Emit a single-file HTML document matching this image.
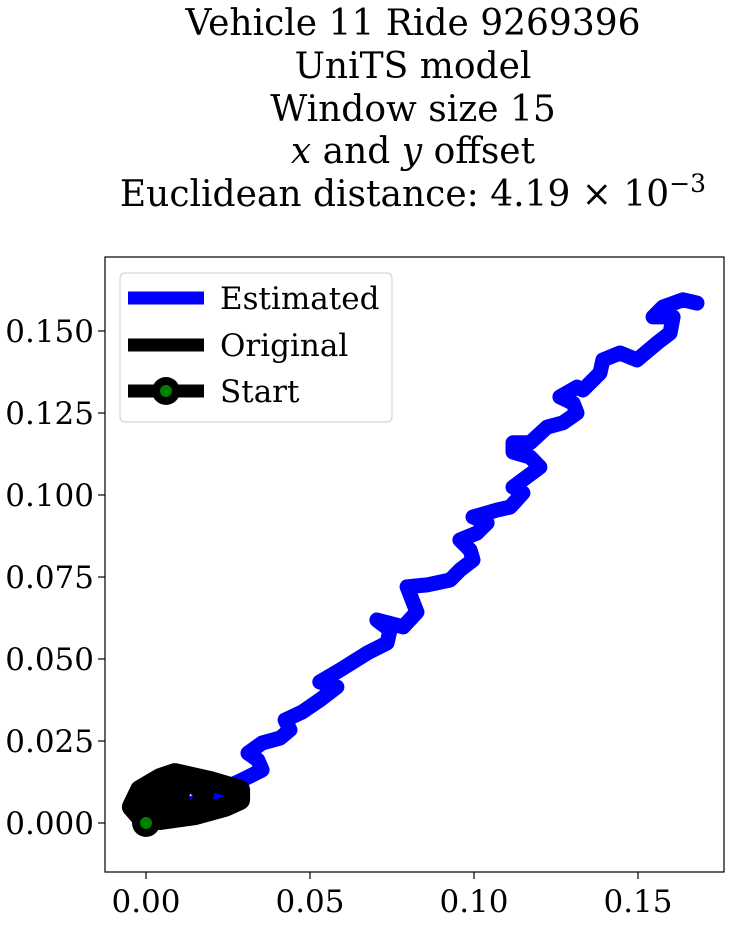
<!DOCTYPE html>
<html><head><meta charset="utf-8"><style>
body{margin:0;background:#fff;width:732px;height:920px;overflow:hidden}
svg text{font-family:"DejaVu Serif","Liberation Serif",serif}
</style></head><body>
<svg id="chart" width="732" height="920" xmlns="http://www.w3.org/2000/svg">
<g font-size="36" text-anchor="middle" fill="#000">
<text x="413" y="35">Vehicle 11 Ride 9269396</text>
<text x="413" y="78">UniTS model</text>
<text x="413" y="121">Window size 15</text>
<text x="413" y="163"><tspan font-style="italic">x</tspan> and <tspan font-style="italic">y</tspan> offset</text>
<text x="413" y="206">Euclidean distance: 4.19 × 10<tspan dy="-14" font-size="25">−3</tspan></text>
</g>
<g id="plot"></g>
</svg>
<script>
const xTicks=[0,0.05,0.10,0.15];
const xTickLabels=["0.00","0.05","0.10","0.15"];
const yTicks=[0,0.025,0.05,0.075,0.1,0.125,0.15];
const yTickLabels=["0.000","0.025","0.050","0.075","0.100","0.125","0.150"];
const estX=[0,0.0165,0.0311,0.0354,0.0341,0.0311,0.0354,0.0409,0.0439,0.0424,0.0476,0.0530,0.0582,0.0530,0.0591,0.0674,0.0735,0.0744,0.0704,0.0784,0.0826,0.0796,0.0857,0.0927,0.0957,0.0997,0.0988,0.0957,0.1009,0.1040,0.0997,0.1070,0.1110,0.1149,0.1119,0.1201,0.1171,0.1119,0.1119,0.1171,0.1223,0.1271,0.1314,0.1302,0.1262,0.1314,0.1332,0.1384,0.1393,0.1445,0.1497,0.1558,0.1598,0.1607,0.1546,0.1576,0.1637,0.1680];
const estY=[0,0.0070,0.0140,0.0162,0.0192,0.0213,0.0244,0.0259,0.0284,0.0314,0.0338,0.0375,0.0415,0.0430,0.0466,0.0518,0.0549,0.0588,0.0619,0.0598,0.0643,0.0720,0.0726,0.0741,0.0771,0.0802,0.0832,0.0863,0.0884,0.0915,0.0933,0.0954,0.0963,0.1006,0.1024,0.1085,0.1116,0.1131,0.1159,0.1159,0.1207,0.1220,0.1250,0.1280,0.1299,0.1329,0.1320,0.1372,0.1412,0.1433,0.1412,0.1463,0.1494,0.1543,0.1543,0.1573,0.1595,0.1585];
const origX=[0,-0.0043,-0.0018,0.0043,0.0088,0.0195,0.0287,0.0287,0.0241,0.0149,0.0043,0.0012,0.0058,0.0104,0.0098,0.0165,0.0180,0.0134,0.0058,0.0012,0];
const origY=[0,0.0049,0.0101,0.0137,0.0152,0.0128,0.0101,0.0070,0.0049,0.0024,0.0009,0.0034,0.0070,0.0095,0.0040,0.0046,0.0101,0.0122,0.0101,0.0070,0];
const startX=[0];const startY=[0];

const NS="http://www.w3.org/2000/svg";
const L=105,R=724,T=257,B=872;
const sx=v=>146+v*3280;
const sy=v=>823-v*3280;
const g=document.getElementById('plot');
function mk(tag,attrs){const e=document.createElementNS(NS,tag);for(const k in attrs)e.setAttribute(k,attrs[k]);g.appendChild(e);return e;}
const clip=mk('clipPath',{id:'clp'});
const cr=document.createElementNS(NS,'rect');cr.setAttribute('x',L);cr.setAttribute('y',T);cr.setAttribute('width',R-L);cr.setAttribute('height',B-T);clip.appendChild(cr);

function path(xs,ys,color,w,name){
  let d=xs.map((x,i)=>(i?'L':'M')+sx(x).toFixed(1)+','+sy(ys[i]).toFixed(1)).join(' ');
  const p=mk('path',{d:d,fill:'none',stroke:color,'stroke-width':w,'stroke-linejoin':'round','stroke-linecap':'round','clip-path':'url(#clp)'});
  
  
}
path(estX,estY,'#0000ff',15,'estimated-line');
path(origX,origY,'#000',20,'original-line');
for(let i=0;i<startX.length;i++){
  const o=mk('circle',{cx:sx(startX[i]),cy:sy(startY[i]),r:14,fill:'#000'});
  
  
  const c=mk('circle',{cx:sx(startX[i]),cy:sy(startY[i]),r:6,fill:'#008000'});
  
  
}
const frame=mk('rect',{x:L,y:T,width:R-L,height:B-T,fill:'none',stroke:'#000','stroke-width':1.2});


xTicks.forEach((v,i)=>{
  const t=mk('line',{x1:sx(v),x2:sx(v),y1:B,y2:B+7,stroke:'#000','stroke-width':1.2});
  
  
  const tx=mk('text',{x:sx(v),y:B+40,'font-size':31,'text-anchor':'middle'});
  tx.textContent=xTickLabels[i];
  
  
});
yTicks.forEach((v,i)=>{
  const t=mk('line',{x1:L-7,x2:L,y1:sy(v),y2:sy(v),stroke:'#000','stroke-width':1.2});
  
  
  const tx=mk('text',{x:L-11,y:sy(v)+11,'font-size':31,'text-anchor':'end'});
  tx.textContent=yTickLabels[i];
  
  
});
const lb=mk('rect',{x:120,y:273,width:272,height:149,rx:5,fill:'#fff','fill-opacity':0.8,stroke:'#ccc','stroke-width':1});


const items=[['Estimated','#0000ff',298],['Original','#000',345],['Start','#000',391]];
items.forEach((it,i)=>{
  const ln=mk('line',{x1:128,x2:204,y1:it[2],y2:it[2],stroke:it[1],'stroke-width':13});
  
  
  if(i===2){
    const o=mk('circle',{cx:166,cy:it[2],r:14,fill:'#000'});
    
    
    const c=mk('circle',{cx:166,cy:it[2],r:6,fill:'#008000'});
    
    
  }
  const tx=mk('text',{x:220,y:it[2]+11,'font-size':31});
  tx.textContent=it[0];
  
  
});
</script>
</body></html>
